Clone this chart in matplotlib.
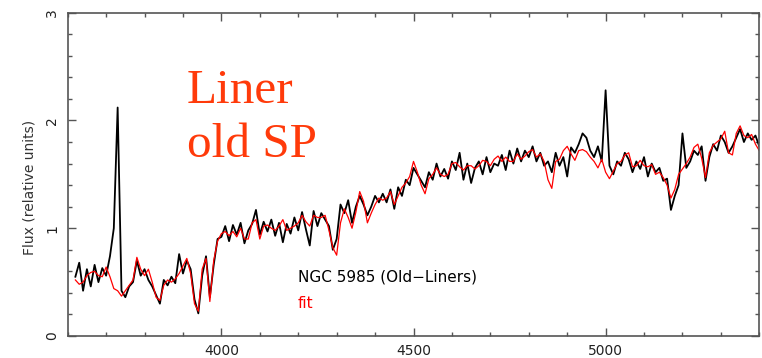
import numpy as np
import matplotlib
matplotlib.use("Agg")
import matplotlib.pyplot as plt
from matplotlib.ticker import MultipleLocator

# wavelength grid (Angstrom), 10 A steps
wave = np.arange(3620, 5401, 10)

# observed spectrum, NGC 5985
flux_obs = [
    0.55, 0.68, 0.42, 0.62, 0.46, 0.66, 0.50, 0.63, 0.56, 0.74,  # 3620
    1.00, 2.12, 0.42, 0.36, 0.46, 0.50, 0.70, 0.56, 0.62, 0.52,  # 3720
    0.46, 0.38, 0.30, 0.52, 0.47, 0.55, 0.49, 0.76, 0.58, 0.70,  # 3820
    0.62, 0.34, 0.21, 0.56, 0.74, 0.36, 0.66, 0.90, 0.92, 1.02,  # 3920
    0.88, 1.03, 0.94, 1.05, 0.86, 0.98, 1.04, 1.17, 0.94, 1.06,  # 4020
    0.97, 1.08, 0.93, 1.05, 0.87, 1.04, 0.95, 1.10, 0.98, 1.15,  # 4120
    0.99, 0.84, 1.16, 1.02, 1.14, 1.08, 1.02, 0.80, 0.90, 1.22,  # 4220
    1.14, 1.26, 1.05, 1.20, 1.30, 1.22, 1.12, 1.20, 1.30, 1.24,  # 4320
    1.32, 1.24, 1.36, 1.18, 1.38, 1.30, 1.45, 1.40, 1.56, 1.50,  # 4420
    1.44, 1.38, 1.52, 1.45, 1.60, 1.48, 1.55, 1.46, 1.62, 1.54,  # 4520
    1.70, 1.45, 1.60, 1.42, 1.56, 1.62, 1.50, 1.66, 1.52, 1.60,  # 4620
    1.58, 1.68, 1.54, 1.72, 1.60, 1.74, 1.62, 1.72, 1.66, 1.76,  # 4720
    1.62, 1.70, 1.58, 1.62, 1.52, 1.70, 1.58, 1.66, 1.48, 1.75,  # 4820
    1.70, 1.78, 1.88, 1.84, 1.72, 1.66, 1.76, 1.62, 2.28, 1.58,  # 4920
    1.50, 1.62, 1.58, 1.70, 1.64, 1.52, 1.62, 1.55, 1.66, 1.48,  # 5020
    1.60, 1.52, 1.56, 1.44, 1.46, 1.17, 1.30, 1.40, 1.88, 1.56,  # 5120
    1.62, 1.72, 1.68, 1.76, 1.44, 1.66, 1.78, 1.72, 1.86, 1.80,  # 5220
    1.70, 1.76, 1.84, 1.92, 1.80, 1.88, 1.82, 1.86, 1.76,        # 5320
]

# old stellar population fit
flux_fit = [
    0.52, 0.48, 0.50, 0.56, 0.59, 0.60, 0.56, 0.55, 0.64, 0.55,  # 3620
    0.44, 0.42, 0.37, 0.42, 0.47, 0.52, 0.73, 0.62, 0.56, 0.62,  # 3720
    0.50, 0.36, 0.33, 0.47, 0.52, 0.50, 0.53, 0.58, 0.65, 0.72,  # 3820
    0.58, 0.30, 0.23, 0.62, 0.72, 0.32, 0.70, 0.88, 0.95, 0.97,  # 3920
    0.93, 0.97, 0.92, 1.00, 0.90, 0.90, 1.05, 1.08, 0.90, 1.02,  # 4020
    1.03, 1.00, 0.98, 1.02, 1.08, 0.98, 1.00, 1.02, 1.05, 1.12,  # 4120
    1.06, 1.02, 1.12, 1.10, 1.10, 1.12, 0.98, 0.82, 0.75, 1.05,  # 4220
    1.18, 1.10, 1.00, 1.15, 1.34, 1.25, 1.05, 1.14, 1.22, 1.28,  # 4320
    1.26, 1.28, 1.34, 1.22, 1.30, 1.38, 1.42, 1.48, 1.62, 1.52,  # 4420
    1.40, 1.32, 1.46, 1.50, 1.56, 1.50, 1.48, 1.50, 1.60, 1.61,  # 4520
    1.57, 1.54, 1.58, 1.58, 1.55, 1.58, 1.63, 1.62, 1.58, 1.64,  # 4620
    1.67, 1.62, 1.66, 1.62, 1.62, 1.69, 1.64, 1.67, 1.71, 1.73,  # 4720
    1.66, 1.69, 1.62, 1.45, 1.37, 1.62, 1.64, 1.72, 1.76, 1.69,  # 4820
    1.63, 1.72, 1.73, 1.71, 1.66, 1.62, 1.56, 1.64, 1.52, 1.46,  # 4920
    1.53, 1.60, 1.62, 1.68, 1.70, 1.57, 1.58, 1.63, 1.58, 1.57,  # 5020
    1.59, 1.50, 1.52, 1.47, 1.40, 1.28, 1.36, 1.50, 1.55, 1.60,  # 5120
    1.66, 1.75, 1.78, 1.65, 1.47, 1.70, 1.77, 1.80, 1.83, 1.90,  # 5220
    1.70, 1.68, 1.88, 1.95, 1.86, 1.84, 1.87, 1.78, 1.72,        # 5320
]

obs_label = "NGC 5985 (Old\u2212Liners)"
fit_label = "fit"
title_lines = ["Liner", "old SP"]

W, H = 762, 358
fig = plt.figure(figsize=(W / 100, H / 100), dpi=100)
ax = fig.add_axes([67.7 / W, 22 / H, 691.6 / W, 323.3 / H])

ax.plot(wave, flux_obs, color="black", lw=1.3)
ax.plot(wave, flux_fit, color="#ff0000", lw=0.9)

ax.set_xlim(3600, 5400)
ax.set_ylim(0, 3)
ax.xaxis.set_major_locator(MultipleLocator(500))
ax.xaxis.set_minor_locator(MultipleLocator(100))
ax.yaxis.set_major_locator(MultipleLocator(1))
ax.yaxis.set_minor_locator(MultipleLocator(0.2))

ax.tick_params(which="both", direction="in", top=True, right=True,
               color="#555555", width=1.0)
ax.tick_params(which="major", length=6)
ax.tick_params(which="minor", length=3)
ax.tick_params(axis="x", labelsize=10, pad=6, labelcolor="#222222")
ax.tick_params(axis="y", labelsize=10, pad=6, labelcolor="#222222")
for lbl in ax.get_yticklabels():
    lbl.set_rotation(90)
    lbl.set_va("center")
for sp in ax.spines.values():
    sp.set_color("#555555")
    sp.set_linewidth(1.2)

fig.text(30 / W, 1 - 187 / H, "Flux (relative units)", rotation=90,
         ha="center", va="center", fontsize=10, color="#333333")

# big annotation, placed by baseline in pixels
fig.text(187 / W, 1 - 103 / H, title_lines[0], fontsize=35.5,
         family="Liberation Serif", color="#ff3a0a", va="baseline")
fig.text(187 / W, 1 - 157 / H, title_lines[1], fontsize=35.5,
         family="Liberation Serif", color="#ff3a0a", va="baseline")

fig.text(298 / W, 1 - 277 / H, obs_label, fontsize=11,
         color="black", va="center")
fig.text(298 / W, 1 - 304 / H, fit_label, fontsize=11,
         color="#ff0000", va="center")

fig.savefig("out.png", dpi=100)
